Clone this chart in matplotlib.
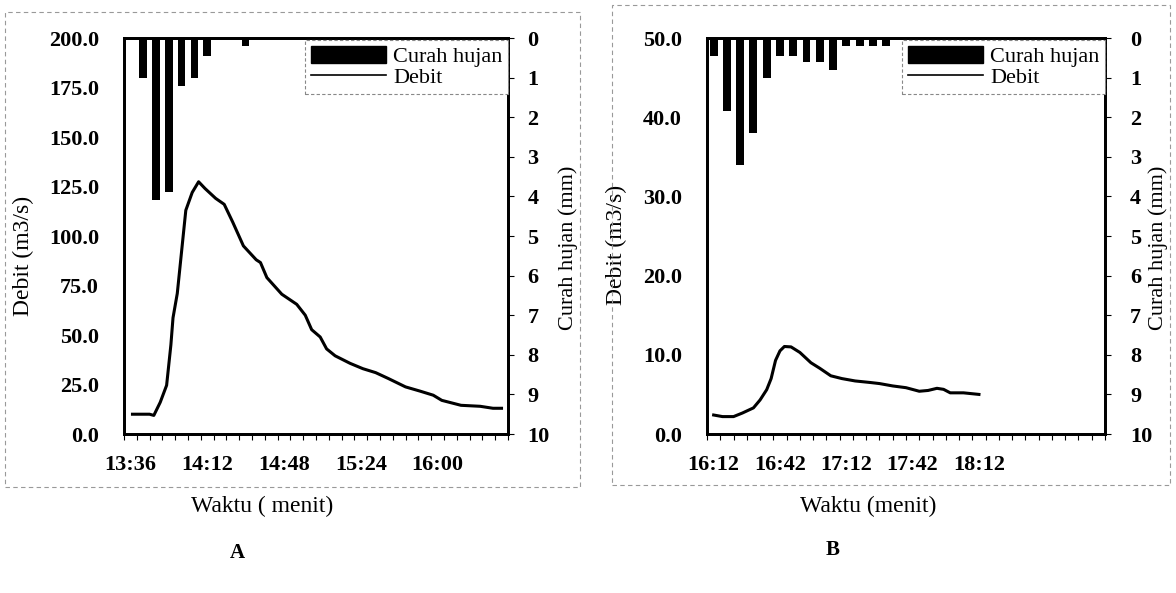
import matplotlib.pyplot as plt
from matplotlib.patches import Rectangle
from matplotlib.lines import Line2D
from matplotlib.ticker import FixedLocator, FormatStrFormatter, MultipleLocator

plt.rcParams['font.family'] = 'serif'
plt.rcParams['font.serif'] = ['Liberation Serif', 'DejaVu Serif']

# ---- panel A ----
a_rain_time = ["13:42", "13:48", "13:54", "14:00", "14:06", "14:12", "14:30"]
a_rain_mm = [1.0, 4.1, 3.9, 1.2, 1.0, 0.45, 0.2]
a_flow_time = ["13:37", "13:45", "13:47", "13:50", "13:53", "13:55", "13:56", "13:58",
               "14:00", "14:02", "14:05", "14:08", "14:11", "14:16", "14:20", "14:24",
               "14:29", "14:35", "14:37", "14:40", "14:47", "14:54", "14:58", "15:01",
               "15:05", "15:08", "15:12", "15:19", "15:25", "15:31", "15:37", "15:45",
               "15:52", "15:58", "16:02", "16:11", "16:20", "16:26", "16:30"]
a_flow = [10.0, 10.0, 9.4, 16.0, 24.6, 45.0, 58.7, 71.0,
          92.0, 113.0, 122.0, 127.4, 124.0, 119.0, 116.0, 107.0,
          95.0, 88.0, 86.6, 79.0, 70.6, 65.5, 60.0, 52.7,
          49.0, 43.0, 39.5, 35.7, 33.0, 31.0, 28.0, 23.8,
          21.6, 19.6, 17.0, 14.5, 14.0, 13.0, 13.0]
a_xticks = ["13:36", "14:12", "14:48", "15:24", "16:00"]
a_xlim = ["13:33", "16:33"]
a_yticks = [0, 25, 50, 75, 100, 125, 150, 175, 200]

# ---- panel B ----
b_rain_time = ["16:12", "16:18", "16:24", "16:30", "16:36", "16:42", "16:48",
               "16:54", "17:00", "17:06", "17:12", "17:18", "17:24", "17:30"]
b_rain_mm = [0.45, 1.85, 3.2, 2.4, 1.0, 0.45, 0.45, 0.6, 0.6, 0.8, 0.2, 0.2, 0.2, 0.2]
b_flow_time = ["16:12", "16:16", "16:21", "16:25", "16:30", "16:33", "16:36", "16:38",
               "16:40", "16:42", "16:44", "16:47", "16:51", "16:56", "17:00", "17:05",
               "17:10", "17:16", "17:23", "17:27", "17:33", "17:39", "17:45", "17:49",
               "17:53", "17:56", "17:59", "18:05", "18:12"]
b_flow = [2.4, 2.2, 2.2, 2.65, 3.3, 4.3, 5.6, 7.0,
          9.3, 10.5, 11.05, 11.0, 10.3, 9.0, 8.3, 7.35,
          7.0, 6.7, 6.5, 6.37, 6.07, 5.85, 5.4, 5.5,
          5.77, 5.64, 5.2, 5.2, 5.0]
b_xticks = ["16:12", "16:42", "17:12", "17:42", "18:12"]
b_xlim = ["16:09", "19:09"]
b_yticks = [0, 10, 20, 30, 40, 50]

rain_ticks = [0, 1, 2, 3, 4, 5, 6, 7, 8, 9, 10]


def to_min(t):
    h, m = t.split(':')
    return int(h) * 60 + int(m)


def draw_panel(rect, rain_t, rain, flow_t, flow, xticks, xlim, yticks,
               xlabel, xlab_x, ylab_x, ylab_y, rlab_x, lpad, rpad):
    ax = fig.add_axes(rect)
    ax2 = ax.twinx()

    ax.plot([to_min(t) for t in flow_t], flow, color='black', lw=2.2, zorder=3)
    ax2.bar([to_min(t) for t in rain_t], rain, width=3.6, color='black', align='center')

    ax.set_xlim(to_min(xlim[0]), to_min(xlim[1]))
    ax.set_ylim(yticks[0], yticks[-1])
    ax2.set_ylim(10, 0)

    ax.xaxis.set_major_locator(FixedLocator([to_min(t) for t in xticks]))
    ax.set_xticklabels(xticks)
    ax.xaxis.set_minor_locator(MultipleLocator(6, offset=3))
    ax.set_yticks(yticks)
    ax.yaxis.set_major_formatter(FormatStrFormatter('%.1f'))
    ax2.set_yticks(rain_ticks)

    ax.tick_params(axis='x', which='major', length=0, pad=15, labelsize=16)
    ax.tick_params(axis='x', which='minor', length=4, width=0.8, direction='out')
    ax.tick_params(axis='y', length=0, pad=lpad, labelsize=16)
    ax2.tick_params(axis='y', length=4, width=0.8, pad=rpad, labelsize=16)
    for lab in ax.get_xticklabels() + ax.get_yticklabels() + ax2.get_yticklabels():
        lab.set_fontweight('bold')

    for a in (ax, ax2):
        for s in a.spines.values():
            s.set_linewidth(2.0)

    ax.set_xlabel(xlabel, fontsize=17)
    ax.xaxis.set_label_coords(xlab_x, -0.155)
    ax.set_ylabel('Debit (m3/s)', fontsize=17)
    ax.yaxis.set_label_coords(ylab_x, ylab_y)
    ax2.set_ylabel('Curah hujan (mm)', fontsize=16)
    ax2.yaxis.set_label_coords(rlab_x, 0.47)

    handles = [Rectangle((0, 0), 1, 1, color='black'),
               Line2D([], [], color='black', lw=1.2)]
    leg = ax2.legend(handles, ['Curah hujan', 'Debit'], loc='upper right',
                     bbox_to_anchor=(1.0, 0.995), borderaxespad=0.0, fontsize=16,
                     labelspacing=0.0, handlelength=3.4, handleheight=0.8,
                     handletextpad=0.3, borderpad=0.25, fancybox=False, framealpha=1)
    fr = leg.get_frame()
    fr.set_edgecolor('#888888')
    fr.set_linestyle((0, (3, 2)))
    fr.set_linewidth(0.8)
    return ax


fig = plt.figure(figsize=(11.76, 5.93), dpi=100, facecolor='w')

draw_panel([0.1054, 0.2681, 0.3265, 0.6678], a_rain_time, a_rain_mm, a_flow_time, a_flow,
           a_xticks, a_xlim, a_yticks, 'Waktu ( menit)', 0.36, -0.235, 0.45, 1.13, 18, 10)
draw_panel([0.6012, 0.2681, 0.3384, 0.6678], b_rain_time, b_rain_mm, b_flow_time, b_flow,
           b_xticks, b_xlim, b_yticks, 'Waktu (menit)', 0.405, -0.2, 0.477, 1.11, 18, 14)

# dashed panel frames
for x0, y0, x1, y1 in [(5, 12, 580, 487), (612, 5, 1170, 485)]:
    fig.add_artist(Rectangle((x0 / 1176, 1 - y1 / 593), (x1 - x0) / 1176, (y1 - y0) / 593,
                             transform=fig.transFigure, fill=False, ec='#999999',
                             lw=0.8, ls=(0, (4, 3))))

fig.text(237 / 1176, 1 - 553 / 593, 'A', fontsize=15, fontweight='bold', ha='center', va='center')
fig.text(833 / 1176, 1 - 550 / 593, 'B', fontsize=15, fontweight='bold', ha='center', va='center')

plt.savefig('out.png', dpi=100)
